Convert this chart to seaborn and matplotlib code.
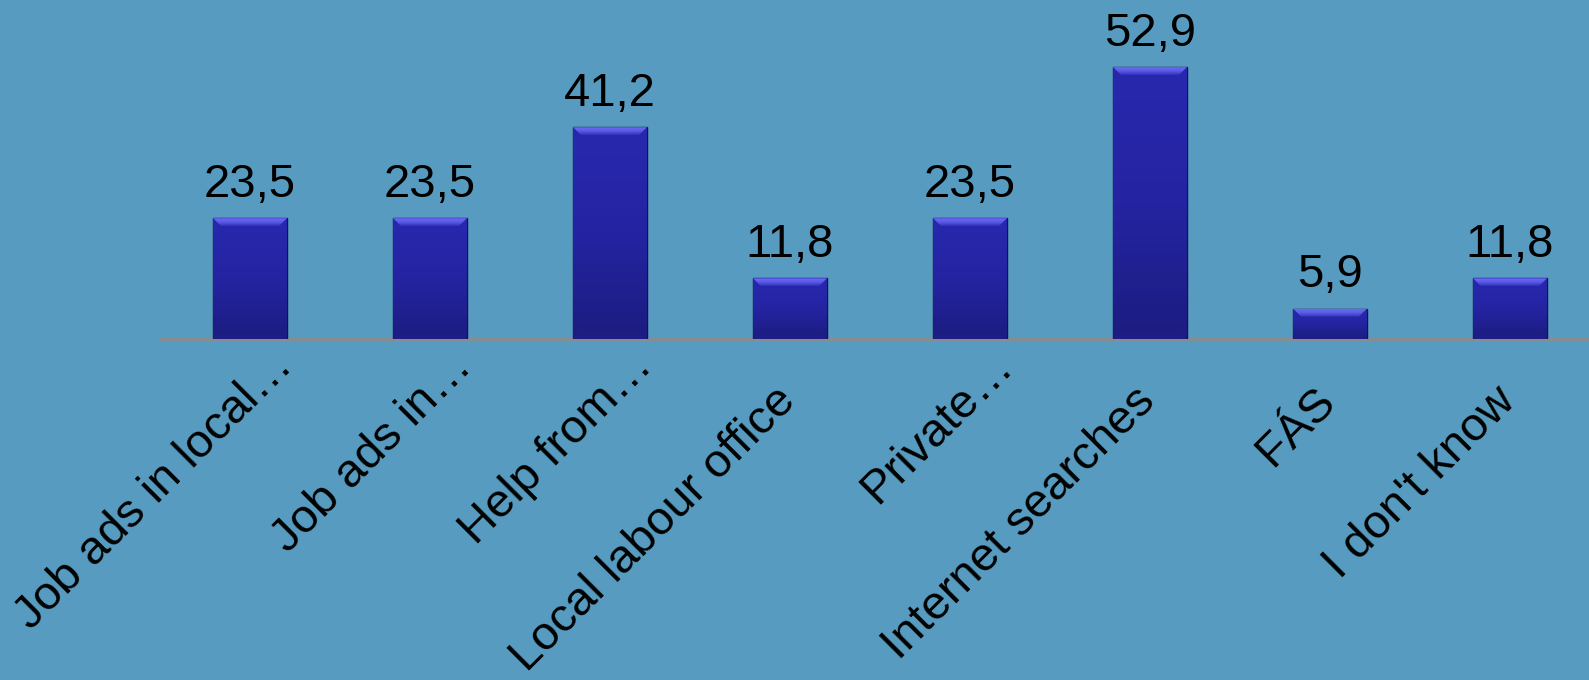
# Job search methods - bar chart with value labels, PowerPoint-style bevelled bars
import numpy as np
import seaborn as sns
import matplotlib.pyplot as plt
from matplotlib.colors import LinearSegmentedColormap
from matplotlib.patches import Polygon
from matplotlib.transforms import ScaledTranslation

categories = ["Job ads in local…", "Job ads in…", "Help from…", "Local labour office",
              "Private…", "Internet searches", "FÁS", "I don't know"]
values = [23.5, 23.5, 41.2, 11.8, 23.5, 52.9, 5.9, 11.8]

bg = "#579CC0"
bar_color = "#2626A8"

sns.set_theme(style="white")
plt.rcParams["font.family"] = ["Liberation Sans", "DejaVu Sans"]

fig = plt.figure(figsize=(15.89, 6.8), dpi=100, facecolor=bg)
# axes spans x 160..1600 px and baseline sits at 339 px from the top
ax = fig.add_axes([160 / 1589, (680 - 339) / 680, 1440 / 1589, 339 / 680])
ax.set_facecolor(bg)

sns.barplot(x=categories, y=values, color=bar_color, width=0.41,
            edgecolor="#121250", linewidth=1.0, saturation=1, ax=ax)

ylim = (0, 339 / 5.14)
xlim = (-0.5, 7.5)

# shading inside each bar
body_cmap = LinearSegmentedColormap.from_list("body", ["#1C1C80", "#2424A2", "#2828AE"])
bevel_cmap = LinearSegmentedColormap.from_list("bevel", ["#3030BC", "#5A5AE6", "#6A6AF0"])
grad = np.linspace(0, 1, 256).reshape(-1, 1)
px_x = 1 / 180      # one pixel in x data units
px_y = 1 / 5.14     # one pixel in y data units
for patch in list(ax.patches):
    x0, w, h = patch.get_x(), patch.get_width(), patch.get_height()
    z = patch.get_zorder()
    im = ax.imshow(grad, extent=[x0, x0 + w, 0, h], origin="lower", aspect="auto",
                   cmap=body_cmap, zorder=z + 0.1)
    im.set_clip_path(patch)
    d, dy = 8 * px_x, 8 * px_y
    top = Polygon([(x0, h), (x0 + w, h), (x0 + w - d, h - dy), (x0 + d, h - dy)],
                  closed=True, facecolor="none", edgecolor="none", zorder=z + 0.2)
    ax.add_patch(top)
    bim = ax.imshow(grad, extent=[x0, x0 + w, h - dy, h], origin="lower", aspect="auto",
                    cmap=bevel_cmap, zorder=z + 0.2)
    bim.set_clip_path(top)
    bd = 4 * px_y
    bot = Polygon([(x0, 0), (x0 + w, 0), (x0 + w - 4 * px_x, bd), (x0 + 4 * px_x, bd)],
                  closed=True, facecolor="#1E1E86", edgecolor="none", zorder=z + 0.2)
    ax.add_patch(bot)
    outline = Polygon(patch.get_verts(), closed=True, fill=False,
                      edgecolor="#121250", linewidth=1.0, zorder=z + 0.4)
    ax.add_patch(outline)

ax.set_xlim(xlim)
ax.set_ylim(ylim)

# value labels, decimal comma
for i, v in enumerate(values):
    ax.annotate(f"{v:.1f}".replace(".", ","), (i, v), xytext=(0, 15.5),
                textcoords="offset points", ha="center", va="baseline",
                fontsize=34, color="black")

# rotated category labels, drawn as text so their anchor can be placed freely
ax.set_xticks([])
ax.set_yticks([])
for i, lab in enumerate(categories):
    if lab.endswith("…"):
        dx, dy_ = 44, 29
    else:
        dx, dy_ = 7, 64
    tr = ax.transData + ScaledTranslation(dx / 100, -dy_ / 100, fig.dpi_scale_trans)
    ax.text(i, 0, lab, transform=tr, rotation=45, rotation_mode="anchor",
            ha="right", va="baseline", fontsize=34, color="black", clip_on=False)

for side in ["left", "right", "top"]:
    ax.spines[side].set_visible(False)
ax.spines["bottom"].set_color("#8C8C8C")
ax.spines["bottom"].set_linewidth(2)
ax.spines["bottom"].set_zorder(0.5)
ax.set_xlabel("")
ax.set_ylabel("")

fig.savefig("out.png", dpi=100, facecolor=bg)
